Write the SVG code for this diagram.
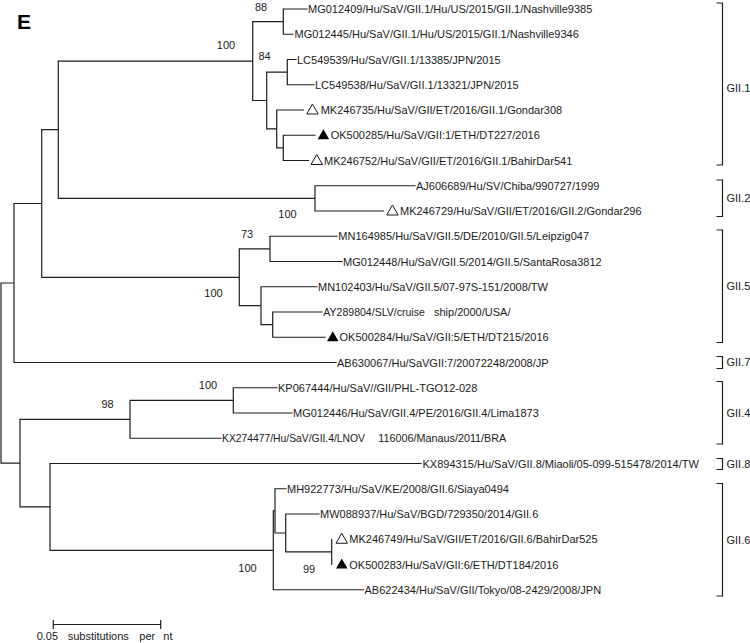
<svg xmlns="http://www.w3.org/2000/svg" xmlns:xlink="http://www.w3.org/1999/xlink" width="750" height="643" viewBox="0 0 750 643">
<style>
text{font-family:"Liberation Sans",Arial,sans-serif;font-size:11px;fill:#1a1a1a}
.ln{fill:none;stroke:#1e1e1e;stroke-width:1.2;stroke-linecap:square}
.br{fill:none;stroke:#1e1e1e;stroke-width:1.2}
.bs{text-anchor:middle}
.op{fill:#fff;stroke:#1a1a1a;stroke-width:1}
.fl{fill:#000}
.ttl{font-size:21px;font-weight:bold;fill:#000}
</style>
<defs>
<path id="tri" d="M0,4 L5.75,-6 L11.5,4 Z"/>
</defs>
<rect width="750" height="643" fill="#fff"/>
<text class="ttl" x="17" y="28.5">E</text>

<g id="connectors">
<path class="ln" d="M1,283V463.1 M1,283H14 M1,463.1H20
M14,203.5V362.5 M14,203.5H41.7 M14,362.5H336
M41.7,129.7V277.3 M41.7,129.7H58.3 M41.7,277.3H239.3
M58.3,61.1V198.4 M58.3,61.1H252.7 M58.3,198.4H315
M252.7,21.6V100.5 M252.7,21.6H283.3 M252.7,100.5H266.7
M283.3,9V34.25 M283.3,9H307 M283.3,34.25H293
M266.7,72.1V128.9 M266.7,72.1H287.3 M266.7,128.9H276.7
M287.3,59.5V84.75 M287.3,59.5H296 M287.3,84.75H314
M276.7,110V147.9 M276.7,110H303.5 M276.7,147.9H283.3
M283.3,135.25V160.5 M283.3,135.25H315 M283.3,160.5H308.5
M315,185.75V211 M315,185.75H415 M315,211H383.5
M239.3,248.9V305.7 M239.3,248.9H270 M239.3,305.7H261
M270,236.25V261.5 M270,236.25H337 M270,261.5H342
M261,286.75V324.6 M261,286.75H317 M261,324.6H272.7
M272.7,312V337.25 M272.7,312H322 M272.7,337.25H325
M20,419.3V506.9 M20,419.3H130 M20,506.9H50
M130,400.4V438.25 M130,400.4H233.3 M130,438.25H221
M233.3,387.75V413 M233.3,387.75H277 M233.3,413H292
M50,463.5V550.3 M50,463.5H421 M50,550.3H273.3
M273.3,510.9V589.75 M273.3,510.9H275 M273.3,589.75H363.5
M275,488.75V533 M275,488.75H286 M275,533H285.7
M285.7,514V551.9 M285.7,514H319 M285.7,551.9H331.7
M331.7,539.25V564.5"/>
</g>

<g id="bootstrap">
<text class="bs" x="261" y="10.7">88</text>
<text class="bs" x="226" y="49">100</text>
<text class="bs" x="264.5" y="60">84</text>
<text class="bs" x="287.5" y="218">100</text>
<text class="bs" x="247" y="237.5">73</text>
<text class="bs" x="213.5" y="297">100</text>
<text class="bs" x="208" y="389">100</text>
<text class="bs" x="107.5" y="408">98</text>
<text class="bs" x="247.5" y="571.5">100</text>
<text class="bs" x="309" y="572.5">99</text>
</g>

<g id="n-MG012409"><text x="308" y="13">MG012409/Hu/SaV/GII.1/Hu/US/2015/GII.1/Nashville9385</text></g>
<g id="n-MG012445"><text x="294.5" y="38.25">MG012445/Hu/SaV/GII.1/Hu/US/2015/GII.1/Nashville9346</text></g>
<g id="n-LC549539"><text x="297" y="63.5">LC549539/Hu/SaV/GII.1/13385/JPN/2015</text></g>
<g id="n-LC549538"><text x="315" y="88.75">LC549538/Hu/SaV/GII.1/13321/JPN/2015</text></g>
<g id="n-MK246735"><use xlink:href="#tri" class="op" x="306.7" y="110"/><text x="320.7" y="114">MK246735/Hu/SaV/GII/ET/2016/GII.1/Gondar308</text></g>
<g id="n-OK500285"><use xlink:href="#tri" class="fl" x="317.7" y="135.25"/><text x="330.7" y="139.25">OK500285/Hu/SaV/GII:1/ETH/DT227/2016</text></g>
<g id="n-MK246752"><use xlink:href="#tri" class="op" x="311" y="160.5"/><text x="324" y="164.5">MK246752/Hu/SaV/GII/ET/2016/GII.1/BahirDar541</text></g>
<g id="n-AJ606689"><text x="416" y="189.75">AJ606689/Hu/SV/Chiba/990727/1999</text></g>
<g id="n-MK246729"><use xlink:href="#tri" class="op" x="386.7" y="211"/><text x="400" y="215">MK246729/Hu/SaV/GII/ET/2016/GII.2/Gondar296</text></g>
<g id="n-MN164985"><text x="338.3" y="240.25">MN164985/Hu/SaV/GII.5/DE/2010/GII.5/Leipzig047</text></g>
<g id="n-MG012448"><text x="343" y="265.5">MG012448/Hu/SaV/GII.5/2014/GII.5/SantaRosa3812</text></g>
<g id="n-MN102403"><text x="318" y="290.75">MN102403/Hu/SaV/GII.5/07-97S-151/2008/TW</text></g>
<g id="n-AY289804"><text x="323.3" y="316"><tspan textLength="101.5" lengthAdjust="spacingAndGlyphs">AY289804/SLV/cruise</tspan><tspan x="434">ship/2000/USA/</tspan></text></g>
<g id="n-OK500284"><use xlink:href="#tri" class="fl" x="327" y="337.25"/><text x="339.5" y="341.25">OK500284/Hu/SaV/GII:5/ETH/DT215/2016</text></g>
<g id="n-AB630067"><text x="337" y="366.5">AB630067/Hu/SaVGII:7/20072248/2008/JP</text></g>
<g id="n-KP067444"><text x="278" y="391.75">KP067444/Hu/SaV//GII/PHL-TGO12-028</text></g>
<g id="n-MG012446"><text x="293" y="417">MG012446/Hu/SaV/GII.4/PE/2016/GII.4/Lima1873</text></g>
<g id="n-KX274477"><text x="222" y="442.25"><tspan textLength="143" lengthAdjust="spacingAndGlyphs">KX274477/Hu/SaV/GII.4/LNOV</tspan><tspan x="378.3" textLength="128" lengthAdjust="spacingAndGlyphs">116006/Manaus/2011/BRA</tspan></text></g>
<g id="n-KX894315"><text x="422.5" y="467.5">KX894315/Hu/SaV/GII.8/Miaoli/05-099-515478/2014/TW</text></g>
<g id="n-MH922773"><text x="287" y="492.75">MH922773/Hu/SaV/KE/2008/GII.6/Siaya0494</text></g>
<g id="n-MW088937"><text x="320" y="518">MW088937/Hu/SaV/BGD/729350/2014/GII.6</text></g>
<g id="n-MK246749"><use xlink:href="#tri" class="op" x="336" y="539.25"/><text x="349.3" y="543.25">MK246749/Hu/SaV/GII/ET/2016/GII.6/BahirDar525</text></g>
<g id="n-OK500283"><use xlink:href="#tri" class="fl" x="336" y="564.5"/><text x="349.3" y="568.5">OK500283/Hu/SaV/GII:6/ETH/DT184/2016</text></g>
<g id="n-AB622434"><text x="364.5" y="593.75">AB622434/Hu/SaV/GII/Tokyo/08-2429/2008/JPN</text></g>

<g id="genogroups">
<path class="br" d="M716.5,3H722.5V165H716.5 M716.5,180H722.5V216.5H716.5 M716.5,230H722.5V342.5H716.5 M716.5,356.5H722.5V368.5H716.5 M716.5,381.5H722.5V444H716.5 M716.5,458.5H722.5V469.5H716.5 M716.5,483.5H722.5V596H716.5"/>
<text x="726.5" y="92">GII.1</text>
<text x="726.5" y="202">GII.2</text>
<text x="726.5" y="290">GII.5</text>
<text x="726.5" y="366">GII.7</text>
<text x="726.5" y="416.5">GII.4</text>
<text x="726.5" y="468">GII.8</text>
<text x="726.5" y="543.5">GII.6</text>
</g>

<g id="scale">
<path class="ln" d="M53.3,624.5H160.7 M53.3,620.5V628.5 M160.7,620.5V628.5"/>
<text y="639.5"><tspan x="36.7">0.05</tspan><tspan x="67.7">substitutions</tspan><tspan x="139.3">per</tspan><tspan x="163.3">nt</tspan></text>
</g>
</svg>
